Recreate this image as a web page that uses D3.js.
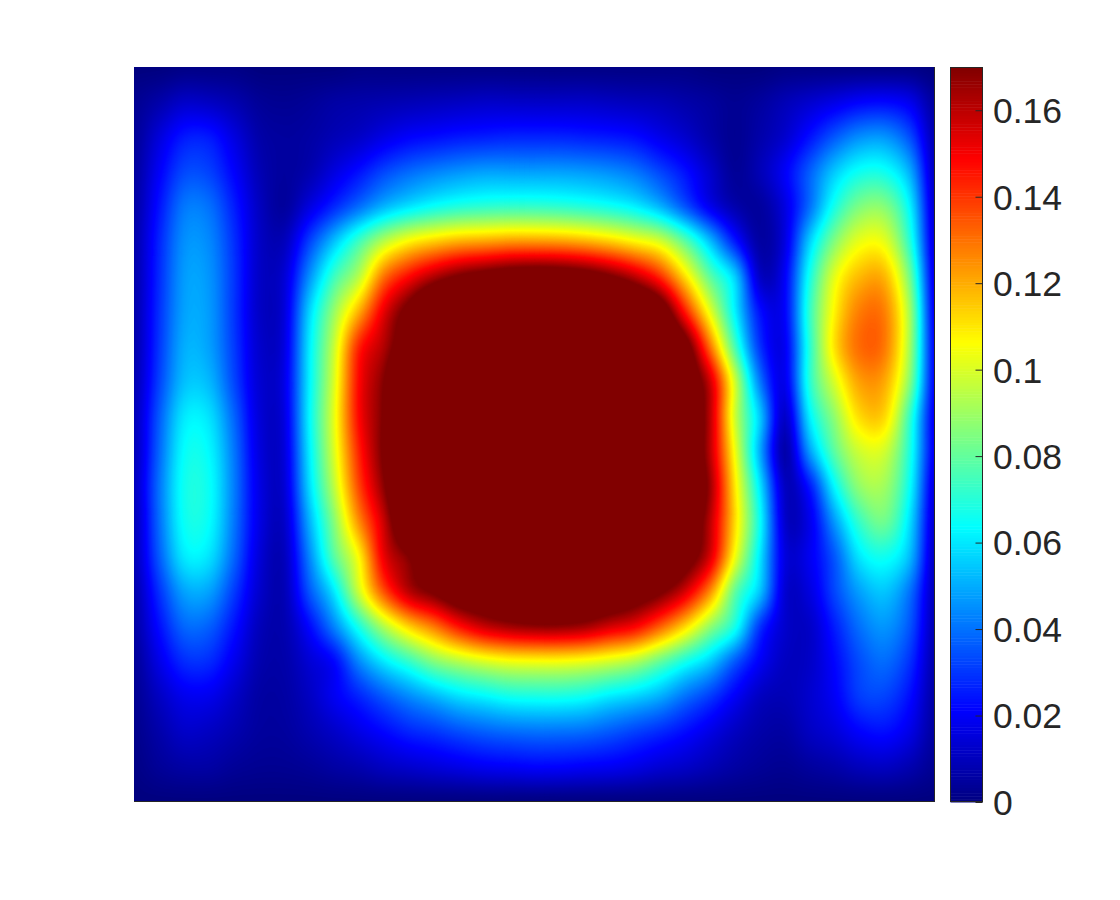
<!DOCTYPE html>
<html><head><meta charset="utf-8">
<script src="https://cdn.jsdelivr.net/npm/d3@7"></script>
<style>html,body{margin:0;background:#fff}svg{display:block}</style></head>
<body><div id="chart"></div>
<script>
// Field values, in thousandths, on a regular grid (rows top to bottom).
const fieldRows = [
[0,0,1,1,1,0,0,0,0,1,1,1,1,1,1,1,1,1,1,1,1,1,1,0,0,0,1,1,1,1,1,1,0],
[3,7,12,11,8,4,3,4,6,7,8,9,10,11,12,12,12,12,12,11,10,9,7,5,3,5,9,13,17,21,22,18,5],
[4,15,25,25,16,7,5,6,9,12,17,21,23,25,26,27,27,27,26,25,23,18,13,7,3,7,13,24,36,45,46,34,8],
[5,20,33,32,21,9,5,8,16,24,33,39,43,46,48,48,48,48,47,45,41,33,24,13,4,9,20,37,55,66,66,50,10],
[6,24,41,40,26,11,5,16,28,40,52,60,66,70,72,73,73,72,70,67,62,52,36,19,8,5,16,40,68,85,86,62,12],
[7,27,45,44,29,12,10,32,54,75,95,108,115,120,122,124,124,123,120,115,108,100,80,54,26,6,16,56,86,103,102,70,14],
[7,28,47,46,30,12,14,45,74,95,130,148,162,172,178,183,185,184,180,172,160,142,112,80,56,12,20,67,102,118,118,82,16],
[7,29,48,47,30,12,15,56,89,120,153,177,200,210,215,220,220,220,218,215,205,186,145,103,62,24,21,72,108,128,127,90,18],
[7,30,50,48,31,13,16,60,97,143,162,187,215,230,240,245,245,245,240,235,225,205,180,130,76,30,19,70,111,131,128,90,20],
[8,32,53,52,33,14,17,61,100,148,170,205,230,245,255,260,260,260,255,250,240,220,190,157,98,42,18,70,100,122,120,85,20],
[9,36,60,59,38,15,16,62,102,148,172,210,235,250,260,265,270,270,265,260,250,230,195,160,98,55,12,61,88,112,112,72,18],
[9,38,64,63,41,16,15,60,100,143,173,210,235,250,260,265,270,270,265,260,250,230,195,160,104,50,7,47,79,98,98,68,18],
[10,40,66,65,42,17,14,57,95,137,168,205,228,245,255,260,265,265,260,255,245,225,197,165,110,60,11,25,63,88,90,64,14],
[9,39,65,64,41,17,12,50,86,125,158,195,218,235,245,250,255,255,250,245,235,215,190,160,112,65,13,18,47,73,82,58,12],
[9,36,60,59,38,15,10,43,78,107,152,170,190,205,215,220,225,225,220,215,205,195,180,155,104,60,16,19,36,60,66,52,10],
[7,29,48,48,31,13,9,35,60,98,135,160,172,185,190,195,200,200,195,190,182,172,155,125,80,54,14,16,33,48,54,40,9],
[6,23,38,37,24,10,8,22,43,68,93,113,128,145,157,163,166,166,163,155,148,132,112,88,67,30,13,12,26,40,46,35,8],
[4,17,28,28,18,8,7,14,22,44,60,72,85,93,99,103,104,104,102,98,92,80,67,55,36,20,11,12,22,34,39,29,7],
[3,11,18,18,12,6,6,11,19,27,36,44,51,58,62,66,67,67,65,60,56,50,40,31,20,11,9,13,20,31,32,23,6],
[2,7,12,11,8,5,5,8,12,17,22,27,30,34,37,39,40,40,39,36,32,28,23,17,11,7,6,11,15,21,23,17,5],
[1,4,6,6,4,3,3,4,6,8,11,13,15,17,19,20,21,21,20,19,17,14,12,9,6,4,3,5,7,10,11,8,3],
[0,0,0,0,0,0,0,0,0,0,0,0,0,0,0,0,0,0,0,0,0,0,0,0,0,0,0,0,0,0,0,0,0]
];
const colorLimits = [0, 0.17];
const tickValues = [0, 0.02, 0.04, 0.06, 0.08, 0.1, 0.12, 0.14, 0.16];
const jetStops = [0, 0.125, 0.375, 0.625, 0.875, 1];
const jetColors = ["#000080", "#0000ff", "#00ffff", "#ffff00", "#ff0000", "#800000"];

const plot = {left:134, right:935, top:67, bottom:802};
const bar = {left:950.5, right:982.5};
const ink = "#262626";

// Drawing only: a smooth cubic surface through the read grid nodes, so the contours do not look faceted.
const sub = 5;
const nRows = (fieldRows.length - 1) * sub + 1, nCols = (fieldRows[0].length - 1) * sub + 1;
function cubic(a, b, c, d, t) {
  return b + 0.5 * t * (c - a + t * (2 * a - 5 * b + 4 * c - d + t * (3 * (b - c) + d - a)));
}
function resample(line) {
  const out = [], m = line.length;
  for (let i = 0; i < m - 1; i++) {
    for (let k = 0; k < sub; k++) {
      out.push(cubic(line[Math.max(i - 1, 0)], line[i], line[i + 1], line[Math.min(i + 2, m - 1)], k / sub));
    }
  }
  out.push(line[m - 1]);
  return out;
}
const acrossRows = fieldRows.map(resample);
const columns = d3.range(nCols).map(j => resample(acrossRows.map(r => r[j])));
const values = [];
for (let i = 0; i < nRows; i++) for (let j = 0; j < nCols; j++) values.push(Math.max(0, columns[j][i]) / 1000);

const color = d3.scaleLinear()
  .domain(jetStops.map(s => colorLimits[0] + s * (colorLimits[1] - colorLimits[0])))
  .range(jetColors).clamp(true);

const svg = d3.select("#chart").append("svg").attr("width", 1120).attr("height", 900);
svg.append("defs").append("clipPath").attr("id", "plotClip").append("rect")
  .attr("x", plot.left).attr("y", plot.top)
  .attr("width", plot.right - plot.left).attr("height", plot.bottom - plot.top);

const x = d3.scaleLinear().domain([0.5, nCols - 0.5]).range([plot.left, plot.right]);
const y = d3.scaleLinear().domain([0.5, nRows - 0.5]).range([plot.top, plot.bottom]);
const path = d3.geoPath(d3.geoTransform({
  point(px, py) { this.stream.point(x(px), y(py)); }
}));

const step = 0.0005;
const levels = d3.range(step, colorLimits[1], step);
const contours = d3.contours().size([nCols, nRows]).thresholds(levels)(values);

const field = svg.append("g").attr("clip-path", "url(#plotClip)");
field.append("rect")
  .attr("x", plot.left).attr("y", plot.top)
  .attr("width", plot.right - plot.left).attr("height", plot.bottom - plot.top)
  .attr("fill", color(0));
field.selectAll("path").data(contours).join("path")
  .attr("d", path)
  .attr("fill", d => color(d.value + step / 2))
  .attr("stroke", d => color(d.value + step / 2))
  .attr("stroke-width", 0.3);

svg.append("path")
  .attr("d", d3.line()([[plot.right - 0.5, plot.top], [plot.right - 0.5, plot.bottom - 0.5], [plot.left, plot.bottom - 0.5]]))
  .attr("fill", "none").attr("stroke", ink).attr("stroke-width", 1);

// colour bar
const yBar = d3.scaleLinear().domain(colorLimits).range([plot.bottom, plot.top]);
const barLevels = d3.range(0, 256).map(i => colorLimits[1] * i / 256);
const barStep = colorLimits[1] / 256;
svg.append("g").selectAll("rect").data(barLevels).join("rect")
  .attr("x", bar.left).attr("width", bar.right - bar.left)
  .attr("y", d => yBar(d + barStep))
  .attr("height", d => yBar(d) - yBar(d + barStep) + 0.5)
  .attr("fill", d => color(d + barStep / 2));
svg.append("rect")
  .attr("x", bar.left).attr("y", plot.top + 0.5)
  .attr("width", bar.right - bar.left).attr("height", plot.bottom - plot.top - 1)
  .attr("fill", "none").attr("stroke", ink).attr("stroke-width", 1);

const axis = d3.axisRight(yBar).tickValues(tickValues).tickFormat(d => String(d))
  .tickSize(-7).tickPadding(10.5);
const gAxis = svg.append("g").attr("transform", `translate(${bar.right},0)`).call(axis);
gAxis.select(".domain").remove();
gAxis.selectAll("line").attr("stroke", ink);
gAxis.selectAll("text").attr("fill", ink).attr("y", 1)
  .style("font-family", "'Liberation Sans', Arial, sans-serif").style("font-size", "35.5px");
</script></body></html>
